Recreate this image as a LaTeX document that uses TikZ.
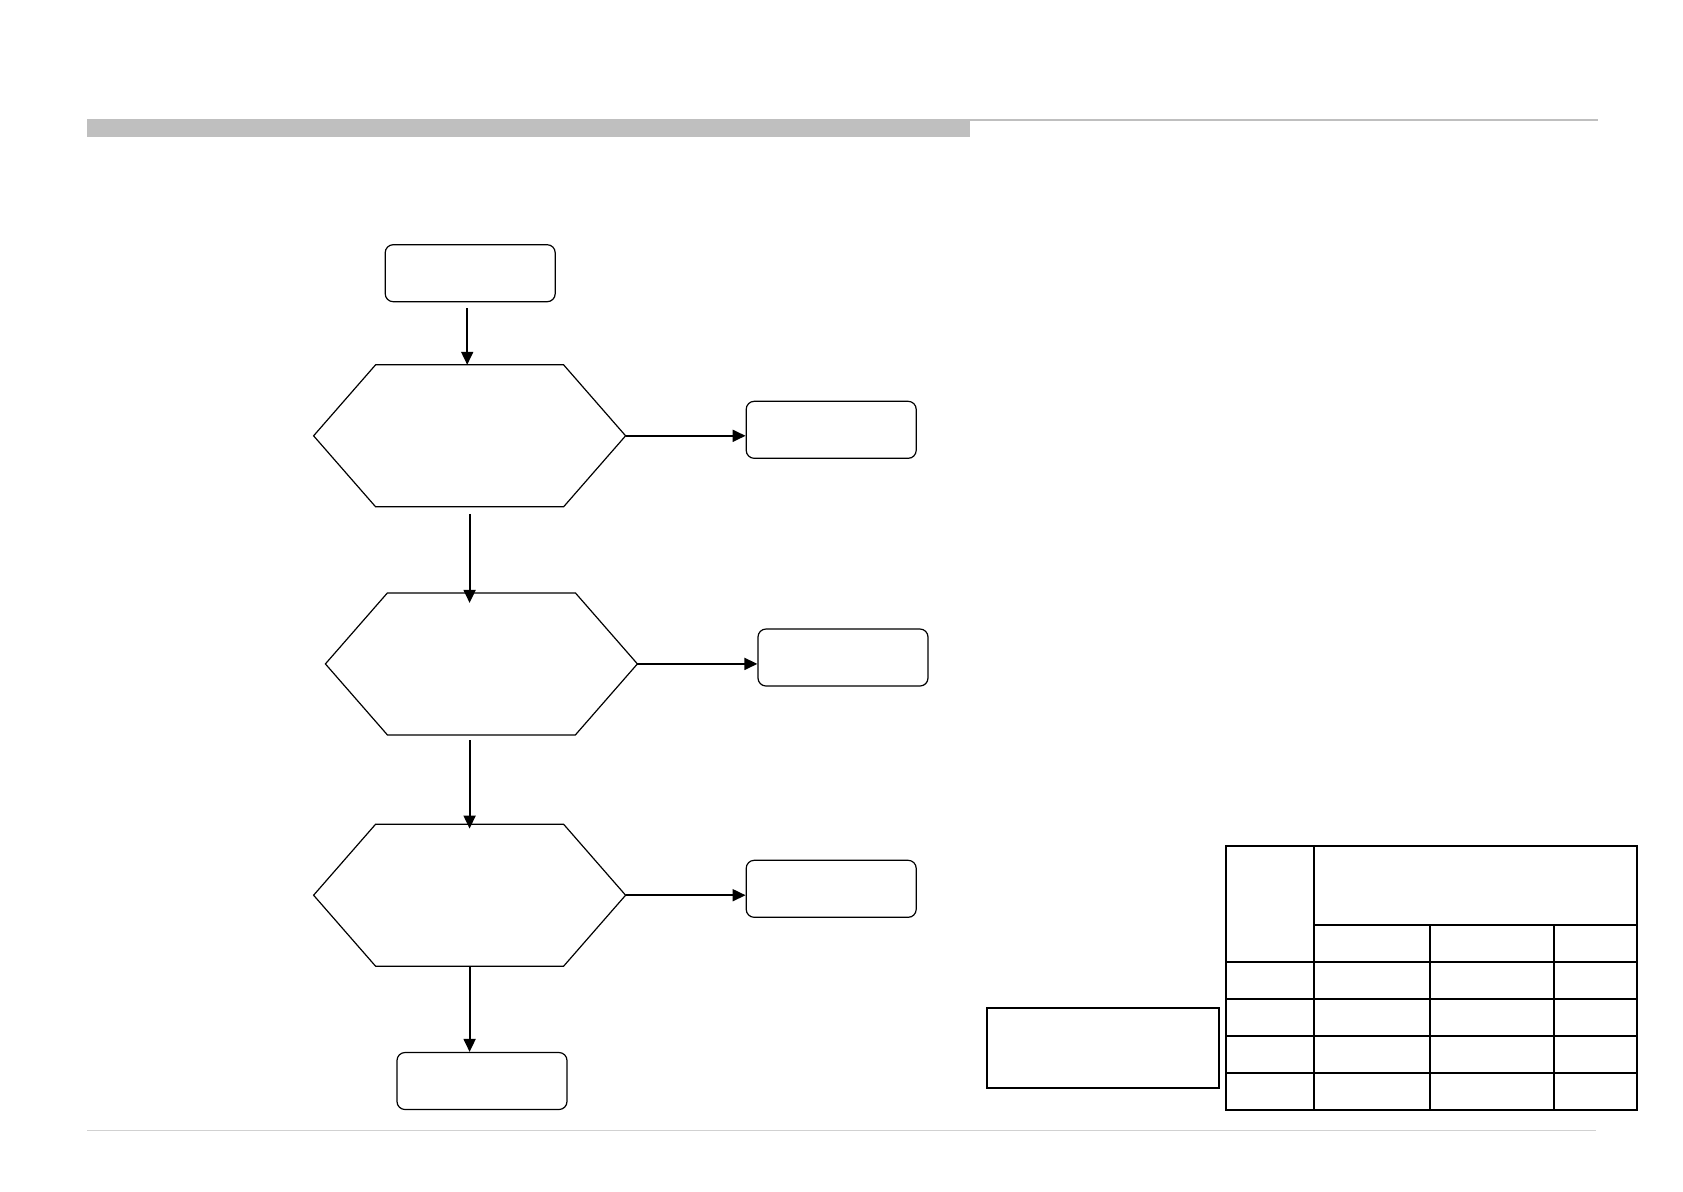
\documentclass[tikz,border=0pt]{standalone}
\usepackage{tikz}
\usetikzlibrary{arrows.meta,positioning,calc}
\tikzset{
  flow/.style={draw,line width=0.6pt,inner sep=0pt},
  termbox/.style={flow,rounded corners=4pt,minimum width=85pt,minimum height=28.5pt},
  check/.style={inner sep=0pt,outer sep=0pt,minimum width=156pt,minimum height=71pt},
  hexline/.style={line width=0.6pt,line join=miter},
  notebox/.style={draw,line width=1pt,inner sep=0pt,minimum width=116pt,minimum height=39.8pt},
  arrow/.style={-{Triangle[length=6.5pt,width=6pt]},line width=0.9pt},
  grid/.style={line width=1pt}
}

\begin{document}
\begin{tikzpicture}[x=0.5pt,y=-0.5pt]
\useasboundingbox (0,0) rectangle (1683,1191);
% header and footer rules
\fill[black!25] (87,119) rectangle (970,137.4);
\draw[black!25,line width=1pt] (87,119.5) -- (1598,119.5);
\draw[black!18,line width=0.6pt] (87,1130.3) -- (1596,1130.3);
% flow chart
\node[termbox] (start) at (470.2,273.2) {};
\node[check] (chk1) at (469.6,435.8) {};
\node[check] (chk2) at (481.4,663.9) {};
\node[check] (chk3) at (469.6,895.2) {};
\node[termbox] (done) at (482,1081) {};
\foreach \h in {chk1,chk2,chk3}
  \draw[hexline] ([xshift=31pt]\h.north west) -- ([xshift=-31pt]\h.north east) -- (\h.east)
    -- ([xshift=-31pt]\h.south east) -- ([xshift=31pt]\h.south west) -- (\h.west) -- cycle;
\node[termbox,right=60pt of chk1,yshift=3pt] (out1) {};
\node[termbox,right=60pt of chk2,yshift=3.2pt] (out2) {};
\node[termbox,right=60pt of chk3,yshift=3.2pt] (out3) {};
\foreach \i in {1,2,3} \draw[arrow] (chk\i.east) -- (chk\i.east -| out\i.west);
\draw[arrow,shorten <=3pt] ([xshift=-1.5pt]start.south) -- ([xshift=-1.5pt]start.south |- chk1.north);
\draw[arrow,shorten <=3.5pt] (chk1.south) -- ($(chk1.south |- chk2.north)+(0,-5pt)$);
\draw[arrow,shorten <=2.7pt] (chk3.north |- chk2.south) -- ($(chk3.north)+(0,-2.2pt)$);
\draw[arrow] (chk3.south) -- (chk3.south |- done.north);
% table
\node[notebox] (note) at (1103.3,1047.9) {};
\draw[grid] (1225.7,845.7) rectangle (1637,1110);
\draw[grid] (1313.7,845.7) -- (1313.7,1110);
\foreach \x in {1430,1554} \draw[grid] (\x,925) -- (\x,1110);
\draw[grid] (1313.7,925) -- (1637,925);
\foreach \y in {962,999,1036,1073} \draw[grid] (1225.7,\y) -- (1637,\y);
\end{tikzpicture}
\end{document}
